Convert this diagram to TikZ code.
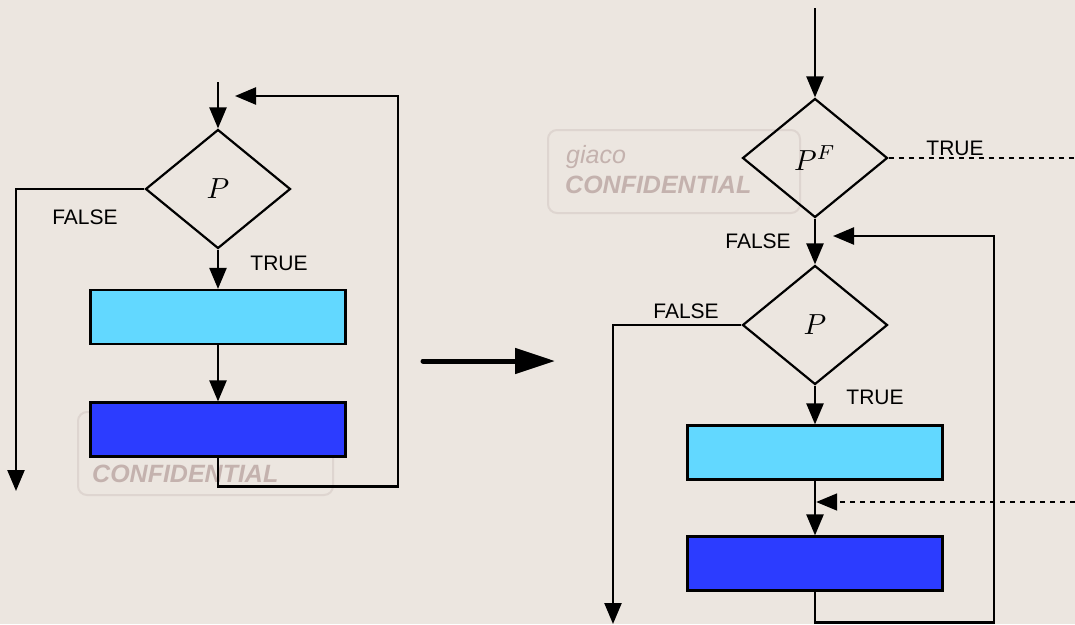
\documentclass[tikz,border=0pt]{standalone}
\usepackage{graphicx}
\usepackage{fontspec}
\setmainfont{Liberation Sans}
\usetikzlibrary{arrows.meta,shapes.geometric}
\definecolor{bg}{RGB}{236,230,224}
\definecolor{lightbox}{RGB}{98,216,255}
\definecolor{darkbox}{RGB}{44,60,255}
\definecolor{wmtext}{RGB}{196,178,174}
\definecolor{wmline}{RGB}{222,213,208}
\tikzset{
  dec/.style={draw=black,line width=2.2pt,shape=diamond,inner sep=0pt,minimum width=145pt,minimum height=119pt},
  lbox/.style={draw=black,line width=2.2pt,fill=lightbox,minimum width=255pt,minimum height=54pt,inner sep=0pt},
  dbox/.style={draw=black,line width=2.2pt,fill=darkbox,minimum width=255pt,minimum height=54pt,inner sep=0pt},
  conn/.style={draw=black,line width=2.4pt},
  arr/.style={conn,-{Triangle[length=21pt,width=17pt]}},
  dotconn/.style={draw=black,line width=1.8pt,dash pattern=on 5pt off 5pt},
  lab/.style={font=\fontsize{21}{25}\selectfont,inner sep=0pt},
  wmbox/.style={draw=wmline,line width=2pt,rounded corners=9pt},
  wmsmall/.style={text=wmtext,font=\fontsize{25}{28}\selectfont\itshape,inner sep=0pt,anchor=base west},
  wmbig/.style={text=wmtext,font=\fontsize{25}{28}\selectfont\bfseries\itshape,inner sep=0pt,anchor=base west},
}
\newcommand{\bigmath}[1]{\scalebox{2.9}{$#1$}}
\begin{document}
\begin{tikzpicture}[x=1pt,y=-1pt]
\fill[bg] (0,0) rectangle (1075,624);
\useasboundingbox (0,0) rectangle (1075,624);
% watermarks
\draw[wmbox] (548,130) rectangle (800,213);
\node[wmsmall] (wm1a) at (566,163) {giaco};
\node[wmbig] (wm1b) at (565,193) {CONFIDENTIAL};
\draw[wmbox] (78,412) rectangle (333,495);
\node[wmsmall] (wm2a) at (95,451) {giaco};
\node[wmbig] (wm2b) at (92,482) {CONFIDENTIAL};
% left diagram
\coordinate (ltop) at (218,82);
\node[dec] (lp) at (218,189) {\bigmath{P}};
\node[lbox] (lb1) at (218,317) {};
\node[dbox] (lb2) at (218,429.5) {};
\coordinate (lfalse) at (16,491);
\coordinate (lloop) at (235,96);
\draw[arr] (ltop) -- (lp.north);
\draw[arr] (lp.west) -| (lfalse);
\draw[arr] (lp.south) -- (lb1.north);
\draw[arr] (lb1.south) -- (lb2.north);
\draw[arr] (lb2.south) -- ++(0,29) -| (398,96) -- (lloop);
\node[lab] (lf) at (85,217) {FALSE};
\node[lab] (lt) at (279,263) {TRUE};
% middle arrow
\coordinate (ma) at (423,361);
\coordinate (mb) at (555,361);
\draw[line width=5pt,line cap=round,-{Triangle[length=40pt,width=25pt]}] (ma) -- (mb);
% right diagram
\coordinate (rtop) at (815,8);
\node[dec] (rpf) at (815,158) {\bigmath{P^F}};
\node[dec] (rp) at (815,325) {\bigmath{P}};
\node[lbox] (rb1) at (815,452.5) {};
\node[dbox] (rb2) at (815,563.5) {};
\coordinate (rtrue) at (1075,158);
\coordinate (rin) at (1075,502);
\coordinate (rfalse) at (613,624);
\coordinate (rloop) at (833,236);
\draw[arr] (rtop) -- (rpf.north);
\draw[dotconn] (rpf.east) -- (rtrue);
\draw[arr] (rpf.south) -- (rp.north);
\draw[arr] (rp.west) -| (rfalse);
\draw[arr] (rp.south) -- (rb1.north);
\draw[arr] (rb1.south) -- (rb2.north);
\draw[dotconn,-{Triangle[length=21pt,width=17pt]}] (rin) -- ([xshift=1.2pt]rb1.south |- rin);
\draw[arr] (rb2.south) -- ++(0,31) -| (994,236) -- (rloop);
\node[lab] (rt1) at (955,148) {TRUE};
\node[lab] (rf1) at (758,241) {FALSE};
\node[lab] (rf2) at (686,311) {FALSE};
\node[lab] (rt2) at (875,397) {TRUE};
\end{tikzpicture}
\end{document}
